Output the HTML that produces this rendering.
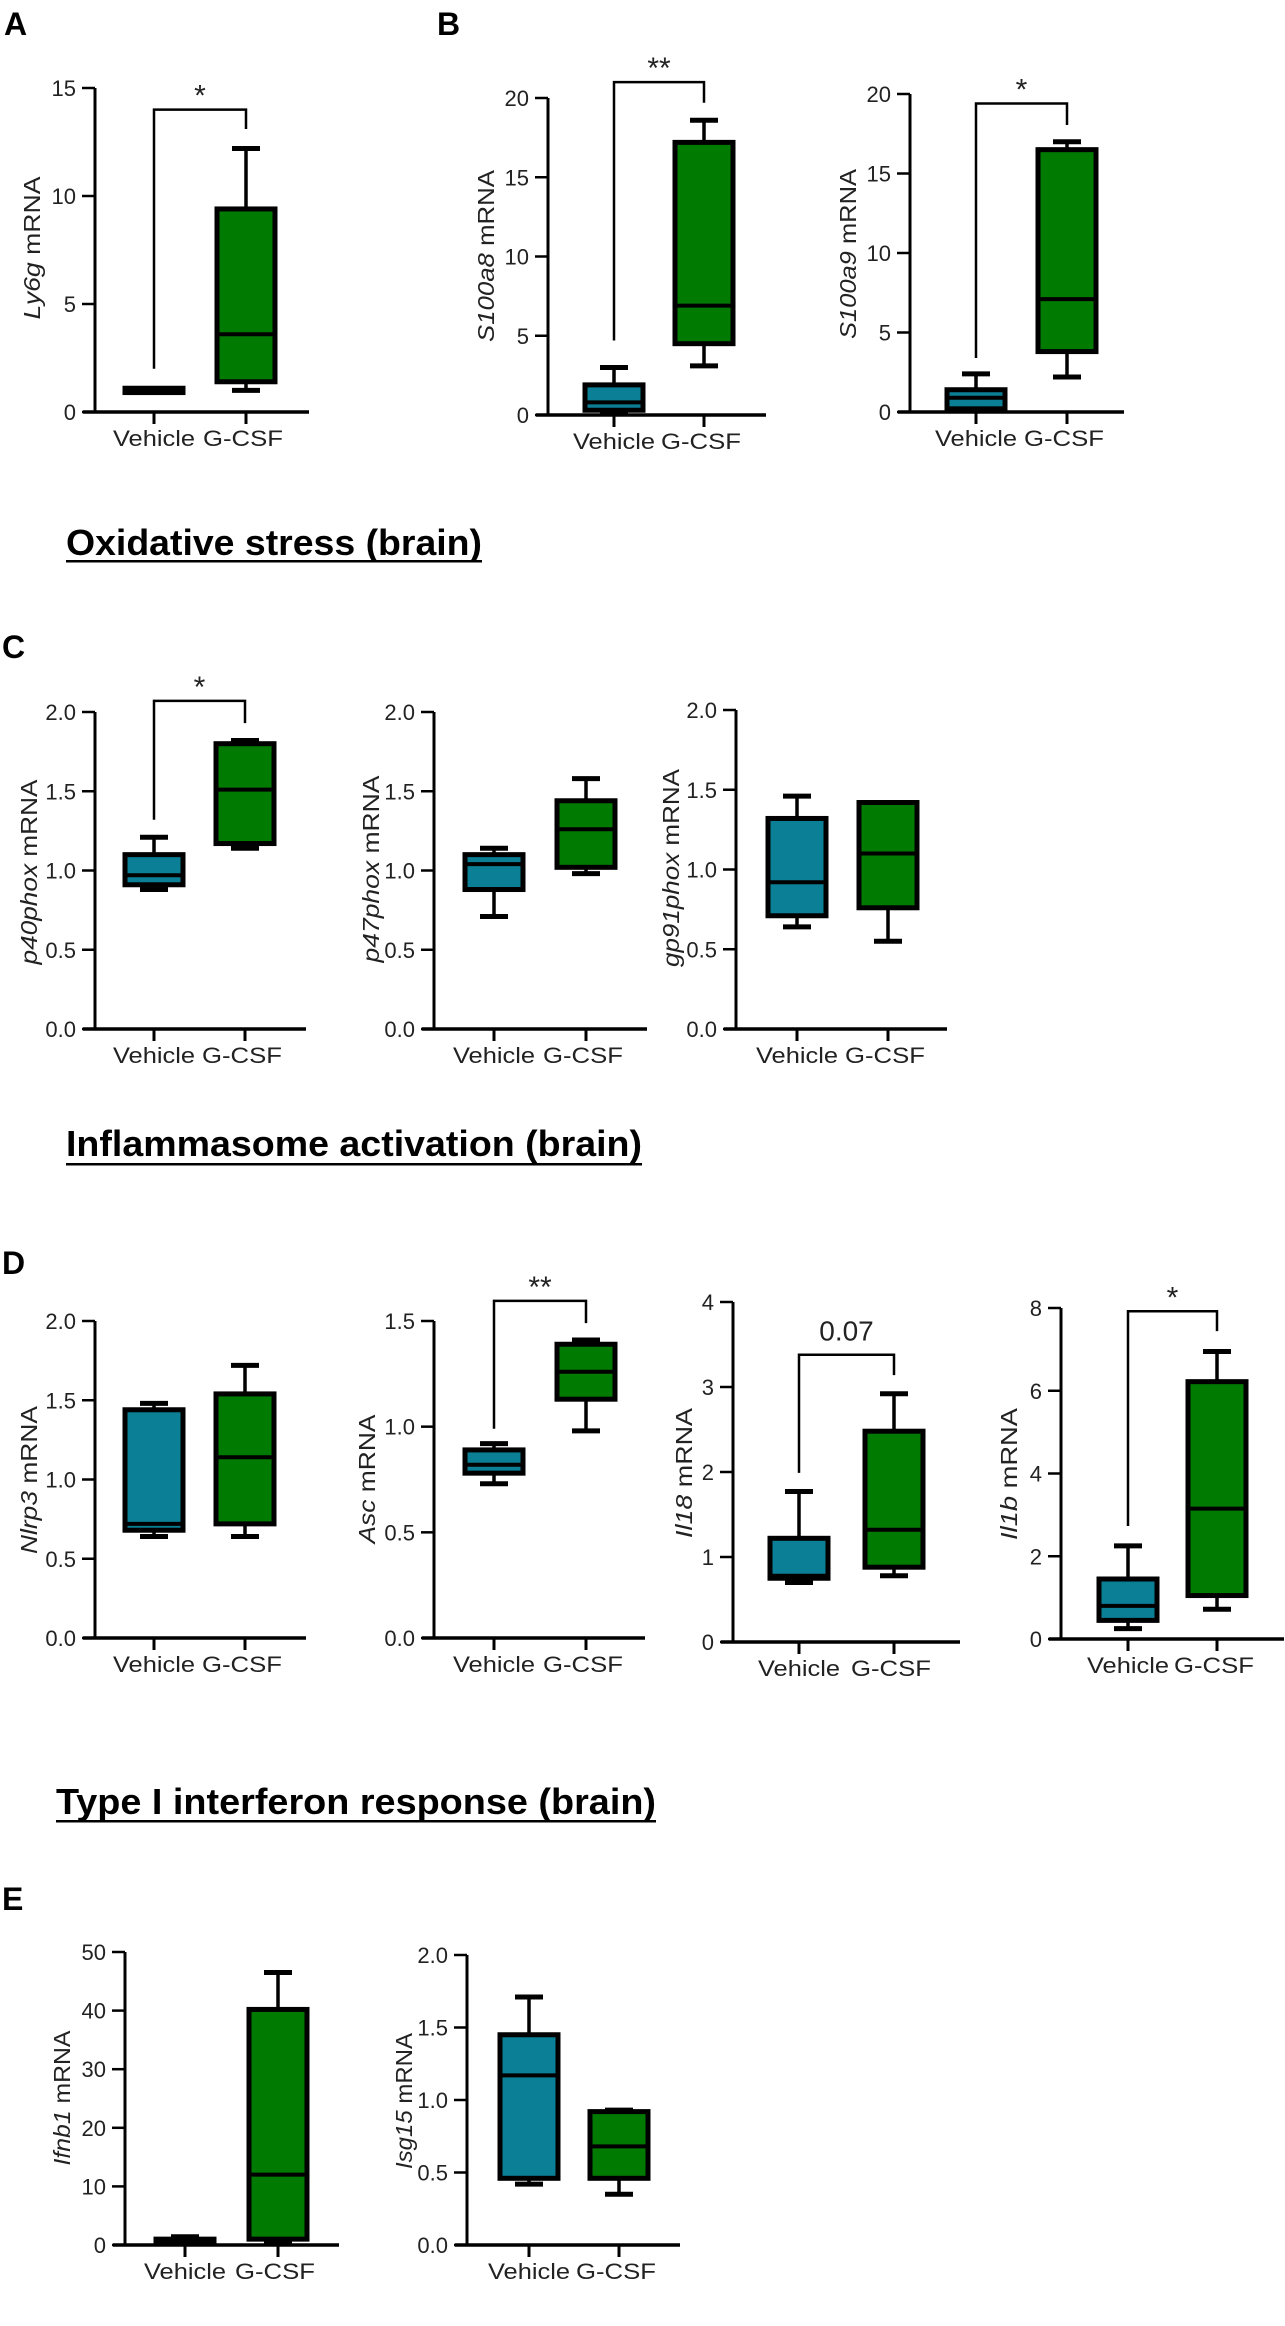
<!DOCTYPE html>
<html><head><meta charset="utf-8"><title>G-CSF brain mRNA</title>
<style>html,body{margin:0;padding:0;background:#fff}svg{display:block}text{font-family:"Liberation Sans",Arial,sans-serif}</style>
</head><body>
<svg id="fig" xmlns="http://www.w3.org/2000/svg" width="1285" height="2326" viewBox="0 0 1285 2326">
<rect width="1285" height="2326" fill="#fff"/>
<g font-weight="bold" font-size="32">
<text x="4" y="35">A</text>
<text x="437" y="35">B</text>
<text x="2" y="658">C</text>
<text x="2" y="1274">D</text>
<text x="2" y="1910">E</text>
</g>
<g font-weight="bold" font-size="36">
<text x="66" y="555" textLength="416" lengthAdjust="spacingAndGlyphs">Oxidative stress (brain)</text>
<rect x="66" y="560" width="416" height="2.5" fill="#000"/>
<text x="66" y="1156" textLength="576" lengthAdjust="spacingAndGlyphs">Inflammasome activation  (brain)</text>
<rect x="66" y="1163" width="576" height="2.5" fill="#000"/>
<text x="56" y="1814" textLength="600" lengthAdjust="spacingAndGlyphs">Type I interferon response (brain)</text>
<rect x="56" y="1820" width="600" height="2.5" fill="#000"/>
</g>
</svg>
<script>
// Box data: [min, q1, median, q3, max]
const categories = ["Vehicle", "G-CSF"];
const ly6gVeh = [0.95, 0.9, 1.0, 1.1, 1.05];
const ly6gGcsf = [1.0, 1.4, 3.6, 9.4, 12.2];
const s100a8Veh = [0.2, 0.3, 0.8, 1.9, 3.0];
const s100a8Gcsf = [3.1, 4.5, 6.9, 17.2, 18.6];
const s100a9Veh = [0.1, 0.2, 0.9, 1.4, 2.4];
const s100a9Gcsf = [2.2, 3.8, 7.1, 16.5, 17.0];
const p40Veh = [0.88, 0.91, 0.97, 1.10, 1.21];
const p40Gcsf = [1.14, 1.17, 1.51, 1.80, 1.82];
const p47Veh = [0.71, 0.88, 1.04, 1.10, 1.14];
const p47Gcsf = [0.98, 1.02, 1.26, 1.44, 1.58];
const gp91Veh = [0.64, 0.71, 0.92, 1.32, 1.46];
const gp91Gcsf = [0.55, 0.76, 1.10, 1.42, 1.42];
const nlrp3Veh = [0.64, 0.68, 0.72, 1.44, 1.48];
const nlrp3Gcsf = [0.64, 0.72, 1.14, 1.54, 1.72];
const ascVeh = [0.73, 0.78, 0.82, 0.89, 0.92];
const ascGcsf = [0.98, 1.13, 1.26, 1.39, 1.41];
const il18Veh = [0.70, 0.75, 0.78, 1.22, 1.77];
const il18Gcsf = [0.78, 0.88, 1.32, 2.48, 2.92];
const il1bVeh = [0.25, 0.45, 0.80, 1.45, 2.25];
const il1bGcsf = [0.72, 1.05, 3.15, 6.22, 6.95];
const ifnb1Veh = [0.3, 0.5, 0.8, 1.0, 1.4];
const ifnb1Gcsf = [0.3, 1.0, 12.0, 40.2, 46.5];
const isg15Veh = [0.42, 0.46, 1.17, 1.45, 1.71];
const isg15Gcsf = [0.35, 0.46, 0.68, 0.92, 0.93];
// Tick values
const ticks15 = [0, 5, 10, 15];
const ticks20 = [0, 5, 10, 15, 20];
const ticks2 = [0, 0.5, 1.0, 1.5, 2.0];
const ticks15d = [0, 0.5, 1.0, 1.5];
const ticks4 = [0, 1, 2, 3, 4];
const ticks8 = [0, 2, 4, 6, 8];
const ticks50 = [0, 10, 20, 30, 40, 50];
// Significance brackets: [left foot, top, right foot] in data units
const ly6gBracket = [2.0, 14.0, 13.1];
const s100a8Bracket = [4.7, 21.0, 19.7];
const s100a9Bracket = [3.4, 19.4, 18.05];
const p40Bracket = [1.32, 2.07, 1.93];
const ascBracket = [0.99, 1.595, 1.49];
const il18Bracket = [1.99, 3.38, 3.14];
const il1bBracket = [2.73, 7.92, 7.44];

const charts = [
 {id:"ly6g",gene:"Ly6g",veh:ly6gVeh,gc:ly6gGcsf,ticks:ticks15,dec:0,ax:95,y0:412,yt:88,xe:309,vx:154,gx:246,lx:32,ly:248,ll:143,br:ly6gBracket,sig:"*"},
 {id:"s100a8",gene:"S100a8",veh:s100a8Veh,gc:s100a8Gcsf,ticks:ticks20,dec:0,ax:548,y0:415,yt:98,xe:766,vx:614,gx:704,lx:486,ly:256,ll:172,br:s100a8Bracket,sig:"**"},
 {id:"s100a9",gene:"S100a9",veh:s100a9Veh,gc:s100a9Gcsf,ticks:ticks20,dec:0,ax:910,y0:412,yt:94,xe:1124,vx:976,gx:1067,lx:848,ly:254,ll:170,br:s100a9Bracket,sig:"*"},
 {id:"p40",gene:"p40phox",veh:p40Veh,gc:p40Gcsf,ticks:ticks2,dec:1,ax:95,y0:1029,yt:712,xe:306,vx:154,gx:245,lx:29,ly:872,ll:185,br:p40Bracket,sig:"*"},
 {id:"p47",gene:"p47phox",veh:p47Veh,gc:p47Gcsf,ticks:ticks2,dec:1,ax:434,y0:1029,yt:712,xe:647,vx:494,gx:586,lx:371,ly:869,ll:187,br:null,sig:""},
 {id:"gp91",gene:"gp91phox",veh:gp91Veh,gc:gp91Gcsf,ticks:ticks2,dec:1,ax:736,y0:1029,yt:710,xe:947,vx:797,gx:888,lx:671,ly:868,ll:198,br:null,sig:""},
 {id:"nlrp3",gene:"Nlrp3",veh:nlrp3Veh,gc:nlrp3Gcsf,ticks:ticks2,dec:1,ax:95,y0:1638,yt:1321,xe:306,vx:154,gx:245,lx:29,ly:1480,ll:148,br:null,sig:""},
 {id:"asc",gene:"Asc",veh:ascVeh,gc:ascGcsf,ticks:ticks15d,dec:1,ax:434,y0:1638,yt:1321,xe:645,vx:494,gx:586,lx:367,ly:1479,ll:129,br:ascBracket,sig:"**"},
 {id:"il18",gene:"Il18",veh:il18Veh,gc:il18Gcsf,ticks:ticks4,dec:0,ax:733,y0:1642,yt:1302,xe:960,vx:799,gx:894,lx:684,ly:1473,ll:130,br:il18Bracket,sig:"0.07"},
 {id:"il1b",gene:"Il1b",veh:il1bVeh,gc:il1bGcsf,ticks:ticks8,dec:0,ax:1061,y0:1639,yt:1308,xe:1284,vx:1128,gx:1217,lx:1009,ly:1474,ll:132,br:il1bBracket,sig:"*"},
 {id:"ifnb1",gene:"Ifnb1",veh:ifnb1Veh,gc:ifnb1Gcsf,ticks:ticks50,dec:0,ax:125,y0:2245,yt:1952,xe:339,vx:185,gx:278,lx:62,ly:2098,ll:135,br:null,sig:""},
 {id:"isg15",gene:"Isg15",veh:isg15Veh,gc:isg15Gcsf,ticks:ticks2,dec:1,ax:467,y0:2245,yt:1955,xe:680,vx:529,gx:619,lx:404,ly:2101,ll:136,br:null,sig:""}
];
const NS="http://www.w3.org/2000/svg";
const svg=document.getElementById("fig");
function mk(tag,attrs,parent){const e=document.createElementNS(NS,tag);for(const k in attrs)e.setAttribute(k,attrs[k]);parent.appendChild(e);return e;}
charts.forEach(c=>{
 const g=mk("g",{},svg);
 
 
 const tmax=c.ticks[c.ticks.length-1];
 const y=v=>c.y0-(v/tmax)*(c.y0-c.yt);
 const ya=mk("line",{x1:c.ax,y1:c.yt,x2:c.ax,y2:c.y0+1.5,stroke:"#000","stroke-width":3},g);
 
 
 const xa=mk("line",{x1:c.ax-12,y1:c.y0,x2:c.xe,y2:c.y0,stroke:"#000","stroke-width":3.5},g);
 
 
 c.ticks.forEach(t=>{
  mk("line",{x1:c.ax-13,y1:y(t),x2:c.ax,y2:y(t),stroke:"#000","stroke-width":2.5},g);
  const tl=mk("text",{x:c.ax-19,y:y(t)+8,"text-anchor":"end","font-size":22,fill:"#222"},g);
  tl.textContent=t.toFixed(c.dec);
  
  
 });
 const yt=mk("text",{x:c.lx+8,y:c.ly,"text-anchor":"middle","font-size":23,fill:"#222",transform:`rotate(-90 ${c.lx+8} ${c.ly})`,textLength:c.ll,lengthAdjust:"spacingAndGlyphs"},g);
 const it=mk("tspan",{"font-style":"italic"},yt); it.textContent=c.gene;
 const rt=mk("tspan",{},yt); rt.textContent=" mRNA";
 
 
 [[c.veh,c.vx,"#0a7f96",0],[c.gc,c.gx,"#007a00",1]].forEach(([d,cx,col,i])=>{
  const bg=mk("g",{},g);
  
  
  mk("line",{x1:cx,y1:y(d[0]),x2:cx,y2:y(d[4]),stroke:"#000","stroke-width":3.5},bg);
  mk("line",{x1:cx-14,y1:y(d[0]),x2:cx+14,y2:y(d[0]),stroke:"#000","stroke-width":5},bg);
  mk("line",{x1:cx-14,y1:y(d[4]),x2:cx+14,y2:y(d[4]),stroke:"#000","stroke-width":5},bg);
  const top=y(d[3]),bot=y(d[1]);
  mk("rect",{x:cx-29,y:top,width:58,height:Math.max(bot-top,1),fill:col,stroke:"#000","stroke-width":5},bg);
  mk("line",{x1:cx-29,y1:y(d[2]),x2:cx+29,y2:y(d[2]),stroke:"#000","stroke-width":4},bg);
  mk("line",{x1:cx,y1:c.y0,x2:cx,y2:c.y0+12,stroke:"#000","stroke-width":3},bg);
  const xl=mk("text",{x:cx+(i?-3:0),y:c.y0+34,"text-anchor":"middle","font-size":22,fill:"#222",textLength:i?80:82,lengthAdjust:"spacingAndGlyphs"},g);
  xl.textContent=categories[i];
  
  
 });
 if(c.br){
  const b=c.br;
  const p=mk("polyline",{points:`${c.vx},${y(b[0])} ${c.vx},${y(b[1])} ${c.gx},${y(b[1])} ${c.gx},${y(b[2])}`,fill:"none",stroke:"#000","stroke-width":2.5},g);
  
  
  const isNum=c.sig.indexOf("0")===0;
  const s=mk("text",{x:(c.vx+c.gx)/2,y:y(b[1])-(isNum?14:4),"text-anchor":"middle","font-size":isNum?28:30,fill:"#222"},g);
  s.textContent=c.sig;
  
  
 }
});
</script>
</body></html>
